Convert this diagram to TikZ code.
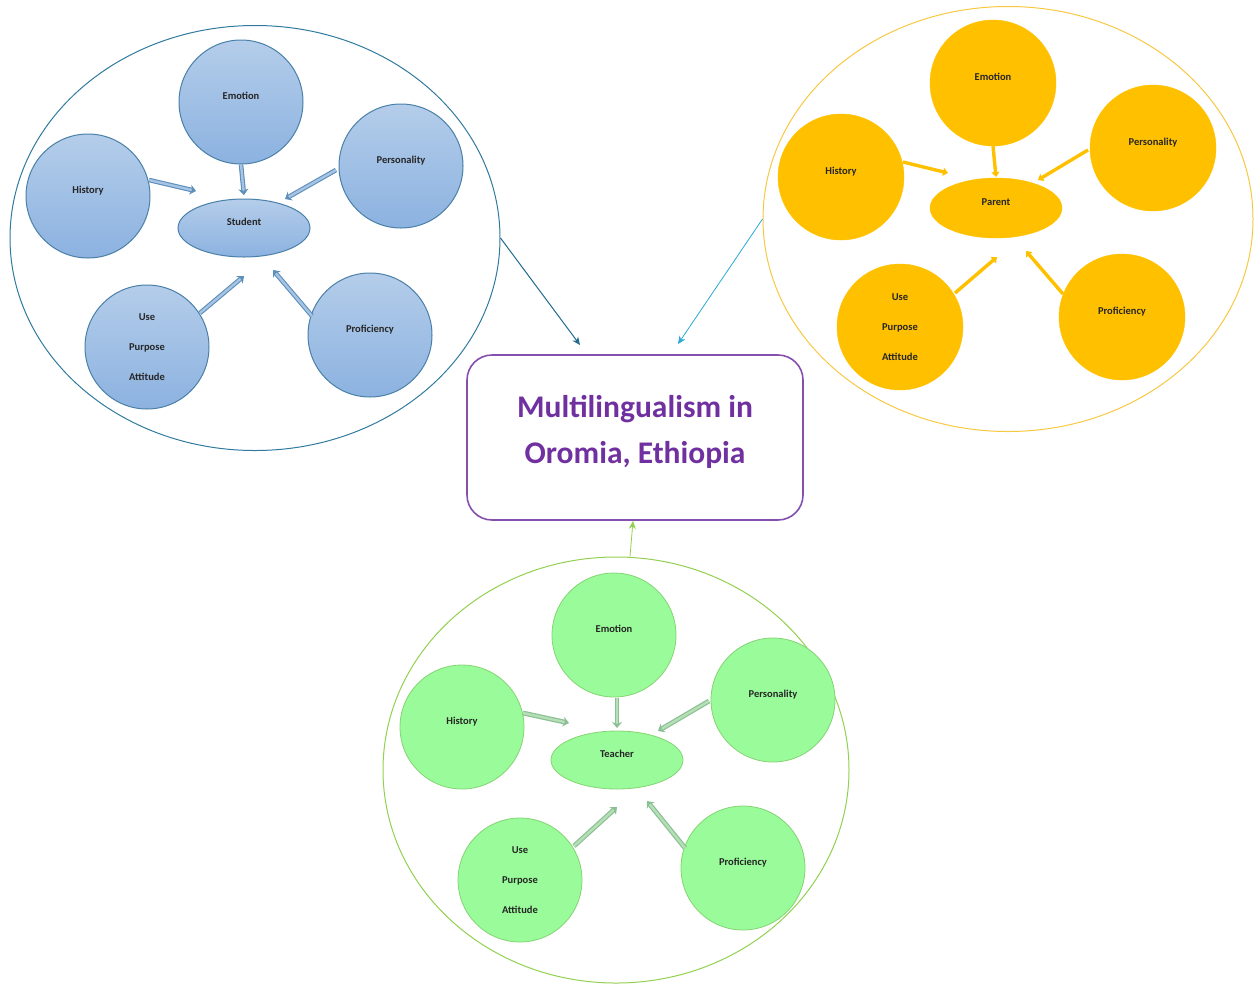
\documentclass[tikz,border=0pt]{standalone}
\usepackage{fontspec}
\setmainfont{Carlito}
\usetikzlibrary{shapes.geometric,arrows.meta}
\definecolor{bluefillT}{HTML}{B4CDEA}
\definecolor{bluefillB}{HTML}{8CB2E0}
\definecolor{blueedge}{HTML}{4A80A8}
\definecolor{bluering}{HTML}{2F7A9E}
\definecolor{bluearrow}{HTML}{5C8FBA}
\definecolor{bluearrowin}{HTML}{A8C4E4}
\definecolor{orfill}{HTML}{FFC000}
\definecolor{orring}{HTML}{F8C843}
\definecolor{grfill}{HTML}{99FB99}
\definecolor{gredge}{HTML}{84D474}
\definecolor{grring}{HTML}{92D050}
\definecolor{grarrow}{HTML}{8CBF96}
\definecolor{grarrowin}{HTML}{B5E0B5}
\definecolor{titlepurple}{HTML}{7030A0}
\definecolor{conblue}{HTML}{1F6A8E}
\definecolor{concyan}{HTML}{2AA8D8}
\tikzset{
  x=1pt,y=-1pt,
  lbl/.style={font=\bfseries\fontsize{10.5}{10.5}\selectfont, text=black!85},
  up/.style={text height=8pt, text depth=14pt},
  multi/.style={align=center, font=\bfseries\fontsize{10.5}{30}\selectfont},
  bcirc/.style={circle, minimum size=124pt, inner sep=0pt, draw=blueedge, line width=1pt, top color=bluefillT, bottom color=bluefillB, lbl},
  bell/.style={ellipse, minimum width=132pt, minimum height=58pt, inner sep=0pt, draw=blueedge, line width=1pt, top color=bluefillT, bottom color=bluefillB, lbl, up},
  ocirc/.style={circle, minimum size=126pt, inner sep=0pt, draw=orfill, fill=orfill, lbl},
  oell/.style={ellipse, minimum width=132pt, minimum height=60pt, inner sep=0pt, draw=orfill, fill=orfill, lbl, up},
  gcirc/.style={circle, minimum size=124pt, inner sep=0pt, draw=gredge, line width=0.8pt, fill=grfill, lbl},
  gell/.style={ellipse, minimum width=132pt, minimum height=58pt, inner sep=0pt, draw=gredge, line width=0.8pt, fill=grfill, lbl, up},
  barrow/.style={draw=bluearrow, line width=1.1pt, double=bluearrowin, double distance=2.4pt, -{Stealth[length=6pt,width=10pt,fill=bluearrow]}},
  oarrow/.style={draw=orfill, line width=3.4pt, -{Triangle[length=5pt,width=8pt]}},
  garrow/.style={draw=grarrow, line width=1.2pt, double=grarrowin, double distance=2.4pt, -{Stealth[length=6pt,width=10pt,fill=grarrow]}},
  ring/.style={ellipse, inner sep=0pt, line width=1pt}
}
\begin{document}
\begin{tikzpicture}
\useasboundingbox (0,0) rectangle (1255,986);
% big rings
\node[ring, draw=bluering, minimum width=490pt, minimum height=425pt] (bring) at (255,238) {};
\node[ring, draw=orring, minimum width=490pt, minimum height=425pt] (oring) at (1008,219) {};
\node[ring, draw=grring, minimum width=466pt, minimum height=426pt] (gring) at (616,770) {};

% blue cluster
\node[bcirc, up] (bemo) at (241,102) {Emotion};
\node[bcirc, up] (bper) at (401,166) {Personality};
\node[bcirc, up] (bhis) at (88,196) {History};
\node[bell]  (bstu) at (244,228) {Student};
\node[bcirc, multi] (buse) at (147,347) {Use\\Purpose\\Attitude};
\node[bcirc, up] (bpro) at (370,335) {Proficiency};
\coordinate (bt1) at (244,195);
\coordinate (bt2) at (196,191);
\coordinate (bt3) at (285,199);
\coordinate (bt4) at (244,276);
\coordinate (bt5) at (273,270);
\draw[barrow] (bemo.south) -- (bt1);
\draw[barrow] (149,180) -- (bt2);
\draw[barrow] (336,170) -- (bt3);
\draw[barrow] (200,313) -- (bt4);
\draw[barrow] (312,316) -- (bt5);

% orange cluster
\node[ocirc, up] (oemo) at (993,83) {Emotion};
\node[ocirc, up] (oper) at (1153,148) {Personality};
\node[ocirc, up] (ohis) at (841,177) {History};
\node[oell]  (opar) at (996,208) {Parent};
\node[ocirc, multi] (ouse) at (900,327) {Use\\Purpose\\Attitude};
\node[ocirc, up] (opro) at (1122,317) {Proficiency};
\coordinate (ot1) at (996,177);
\coordinate (ot2) at (948,173);
\coordinate (ot3) at (1038,180);
\coordinate (ot4) at (997,257);
\coordinate (ot5) at (1026,251);
\draw[oarrow] (oemo.south) -- (ot1);
\draw[oarrow] (903,162) -- (ot2);
\draw[oarrow] (1088,150) -- (ot3);
\draw[oarrow] (955,293) -- (ot4);
\draw[oarrow] (1063,294) -- (ot5);

% green cluster
\node[gcirc, up] (gemo) at (614,635) {Emotion};
\node[gcirc, up] (gper) at (773,700) {Personality};
\node[gcirc, up] (ghis) at (462,727) {History};
\node[gell]  (gtea) at (617,760) {Teacher};
\node[gcirc, multi] (guse) at (520,880) {Use\\Purpose\\Attitude};
\node[gcirc, up] (gpro) at (743,868) {Proficiency};
\coordinate (gt1) at (617,728);
\coordinate (gt2) at (569,723);
\coordinate (gt3) at (658,731);
\coordinate (gt4) at (617,807);
\coordinate (gt5) at (647,801);
\draw[garrow] (617,698) -- (gt1);
\draw[garrow] (523,713) -- (gt2);
\draw[garrow] (709,701) -- (gt3);
\draw[garrow] (574,846) -- (gt4);
\draw[garrow] (685,848) -- (gt5);

% center box
\node[draw=titlepurple!85, line width=1.6pt, rounded corners=25pt, minimum width=336pt, minimum height=165pt] (box) at (635,437.5) {};
\node[align=center, text=titlepurple, font=\bfseries\fontsize{31.5}{46}\selectfont] (title) at ([yshift=6pt]box.center) {Multilingualism in\\Oromia, Ethiopia};

\coordinate (c1) at (580,345);
\coordinate (c2) at (678,344);
\coordinate (c3) at (633,521);
\draw[conblue, line width=1pt, -{Stealth[length=8pt,width=7pt]}] (bring.east) -- (c1);
\draw[concyan, line width=0.8pt, -{Stealth[length=8pt,width=7pt]}] (oring.west) -- (c2);
\draw[grring, line width=0.8pt, -{Stealth[length=8pt,width=7pt]}] (gring.north) ++(14,0) -- (c3);
\end{tikzpicture}
\end{document}
